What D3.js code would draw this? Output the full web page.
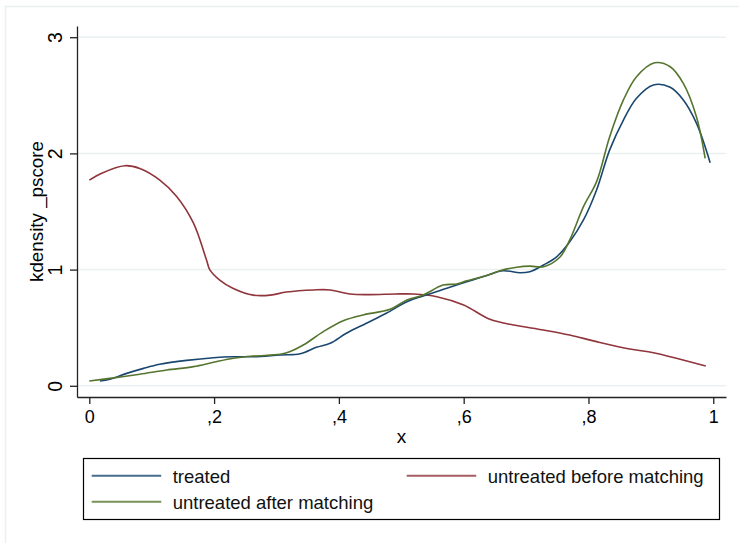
<!DOCTYPE html>
<html>
<head>
<meta charset="utf-8">
<script src="https://cdn.jsdelivr.net/npm/d3@7"></script>
<style>
  html, body { margin: 0; padding: 0; background: #fff; }
  svg { display: block; font-family: "Liberation Sans", Arial, sans-serif; }
</style>
</head>
<body>
<svg id="chart" width="739" height="543"></svg>
<script>
// ---- data ----
const treatedX = [0.017, 0.033, 0.06, 0.087, 0.113, 0.156, 0.199, 0.231, 0.263, 0.306, 0.338, 0.364, 0.386, 0.412, 0.444, 0.476, 0.509, 0.535, 0.573, 0.605, 0.637, 0.663, 0.69, 0.706, 0.728, 0.749, 0.77, 0.792, 0.813, 0.834, 0.856, 0.877, 0.904, 0.931, 0.952, 0.973, 0.995];
const treatedY = [0.041, 0.056, 0.107, 0.15, 0.185, 0.219, 0.242, 0.25, 0.25, 0.265, 0.275, 0.331, 0.366, 0.452, 0.538, 0.624, 0.724, 0.773, 0.839, 0.896, 0.95, 0.99, 0.973, 0.982, 1.04, 1.11, 1.24, 1.427, 1.685, 2.03, 2.287, 2.474, 2.589, 2.569, 2.46, 2.26, 1.92];

const beforeX = [0, 0.02, 0.057, 0.081, 0.113, 0.14, 0.167, 0.188, 0.193, 0.209, 0.23, 0.263, 0.29, 0.316, 0.36, 0.386, 0.418, 0.45, 0.49, 0.52, 0.557, 0.6, 0.642, 0.68, 0.728, 0.77, 0.813, 0.866, 0.904, 0.947, 0.988];
const beforeY = [1.77, 1.83, 1.894, 1.87, 1.77, 1.63, 1.40, 1.08, 1.0, 0.91, 0.84, 0.78, 0.78, 0.807, 0.825, 0.825, 0.79, 0.785, 0.79, 0.79, 0.767, 0.695, 0.572, 0.523, 0.48, 0.437, 0.38, 0.317, 0.285, 0.228, 0.17];

const afterX = [0, 0.033, 0.081, 0.124, 0.167, 0.199, 0.231, 0.263, 0.306, 0.321, 0.343, 0.375, 0.407, 0.439, 0.482, 0.509, 0.535, 0.567, 0.589, 0.605, 0.637, 0.658, 0.685, 0.706, 0.728, 0.754, 0.77, 0.792, 0.813, 0.834, 0.856, 0.877, 0.906, 0.931, 0.952, 0.973, 0.987];
const afterY = [0.041, 0.064, 0.1, 0.136, 0.165, 0.202, 0.237, 0.256, 0.271, 0.293, 0.351, 0.466, 0.56, 0.61, 0.658, 0.738, 0.781, 0.867, 0.876, 0.904, 0.95, 0.99, 1.02, 1.03, 1.025, 1.106, 1.255, 1.542, 1.757, 2.144, 2.46, 2.66, 2.78, 2.746, 2.603, 2.316, 1.958];

const xTickValues = [0, 0.2, 0.4, 0.6, 0.8, 1];
const xTickLabels = ["0", ",2", ",4", ",6", ",8", "1"];
const yTickValues = [0, 1, 2, 3];
const yTickLabels = ["0", "1", "2", "3"];

const seriesNames = ["treated", "untreated before matching", "untreated after matching"];
const seriesColors = ["#1a476f", "#90353b", "#55752f"];
const yTitle = "kdensity _pscore";
const xTitle = "x";

// ---- drawing ----
const svg = d3.select("#chart");
const gridColor = "#eaf1f3";
const fontFam = '"Liberation Sans", Arial, sans-serif';

// outer graph-region border
svg.append("rect").attr("x", 5.5).attr("y", 6.5).attr("width", 800).attr("height", 800)
  .attr("fill", "none").attr("stroke", gridColor).attr("stroke-width", 1.5);

const x = d3.scaleLinear().domain([-0.0197, 1.0204]).range([77, 726]);
const y = d3.scaleLinear().domain([-0.0964, 3.0964]).range([397, 26]);

// gridlines
svg.append("g").selectAll("line").data(yTickValues).join("line")
  .attr("x1", 77).attr("x2", 726)
  .attr("y1", d => y(d)).attr("y2", d => y(d))
  .attr("stroke", gridColor).attr("stroke-width", 1.5);

// y axis
const yAxis = svg.append("g").attr("transform", "translate(77,0)")
  .call(d3.axisLeft(y).tickValues(yTickValues).tickSize(7).tickSizeOuter(0)
    .tickFormat((d, i) => yTickLabels[i]));
yAxis.select(".domain").attr("stroke", "#222").attr("stroke-width", 1.3);
yAxis.selectAll(".tick line").attr("stroke", "#222").attr("stroke-width", 1.3);
yAxis.selectAll(".tick text")
  .attr("x", null).attr("dy", null)
  .attr("transform", "translate(-15,0) rotate(-90)")
  .attr("text-anchor", "middle")
  .attr("fill", "#000")
  .style("font-size", "19.5px")
  .style("font-family", fontFam);

// x axis
const xAxis = svg.append("g").attr("transform", "translate(0,397)")
  .call(d3.axisBottom(x).tickValues(xTickValues).tickSize(7).tickSizeOuter(0)
    .tickFormat((d, i) => xTickLabels[i]));
xAxis.select(".domain").attr("stroke", "#222").attr("stroke-width", 1.3);
xAxis.selectAll(".tick line").attr("stroke", "#222").attr("stroke-width", 1.3);
xAxis.selectAll(".tick text")
  .attr("y", 26).attr("dy", null)
  .attr("fill", "#000")
  .style("font-size", "18px")
  .style("font-family", fontFam);

// axis titles
svg.append("text").attr("transform", "translate(42.5," + ((26 + 397) / 2) + ") rotate(-90)")
  .attr("text-anchor", "middle").style("font-size", "18.8px").text(yTitle);
svg.append("text").attr("x", (77 + 726) / 2).attr("y", 443)
  .attr("text-anchor", "middle").style("font-size", "19px").text(xTitle);

// lines
const line = d3.line().x(d => x(d[0])).y(d => y(d[1])).curve(d3.curveCatmullRom.alpha(0.5));
const seriesData = [
  d3.zip(treatedX, treatedY),
  d3.zip(beforeX, beforeY),
  d3.zip(afterX, afterY)
];
const drawOrder = [1, 0, 2];
drawOrder.forEach(i => {
  svg.append("path").datum(seriesData[i])
    .attr("fill", "none").attr("stroke", seriesColors[i])
    .attr("stroke-width", 1.6).attr("stroke-linejoin", "round")
    .attr("d", line);
});

// legend
const lg = svg.append("g");
lg.append("rect").attr("x", 83.5).attr("y", 458.5).attr("width", 636).attr("height", 61)
  .attr("fill", "#fff").attr("stroke", "#000").attr("stroke-width", 1.2);
const legendPos = [
  { lx: 91.7, ly: 475.7 },
  { lx: 406.7, ly: 475.7 },
  { lx: 91.7, ly: 501.7 }
];
seriesNames.forEach((name, i) => {
  const p = legendPos[i];
  lg.append("line").attr("x1", p.lx).attr("x2", p.lx + 69.5)
    .attr("y1", p.ly).attr("y2", p.ly)
    .attr("stroke", seriesColors[i]).attr("stroke-width", 2).attr("stroke-opacity", 0.8);
  lg.append("text").attr("x", p.lx + 81).attr("y", p.ly + 7.6)
    .style("font-size", "18.5px").attr("fill", "#111").text(name);
});
</script>
</body>
</html>
